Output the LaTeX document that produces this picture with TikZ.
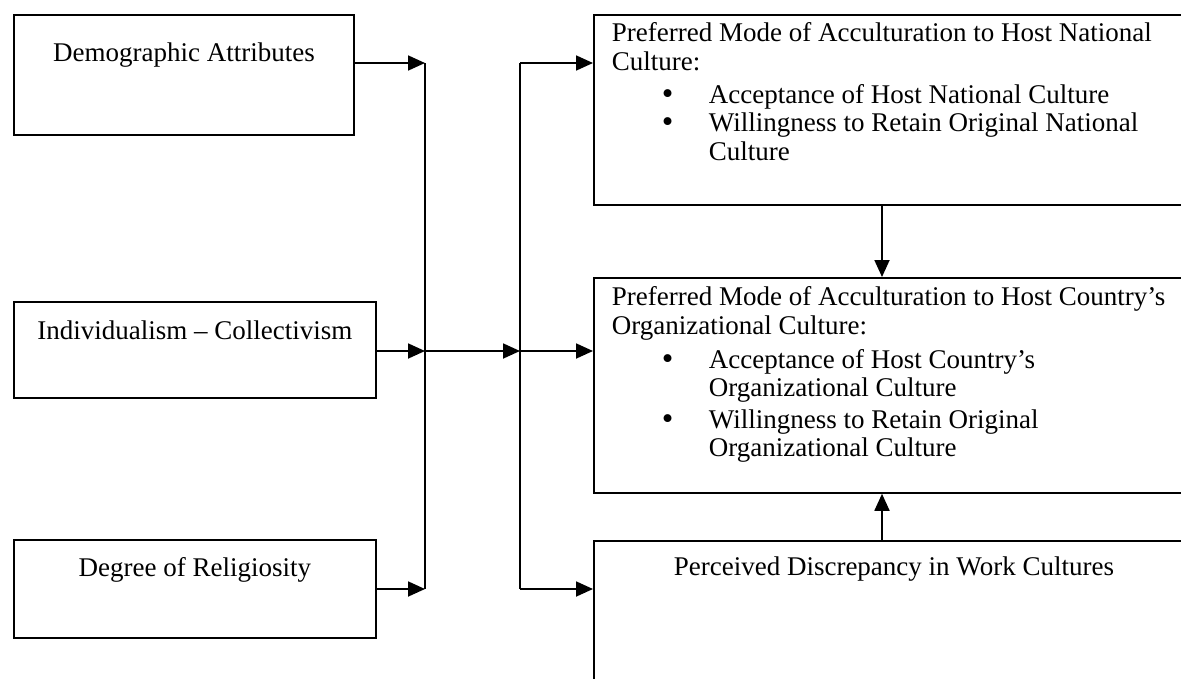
\documentclass[tikz,border=0pt]{standalone}
\usepackage{fontspec}
\setmainfont{Liberation Serif}
\usetikzlibrary{arrows.meta}
\newcommand{\bitem}[1]{\hspace*{68pt}\makebox[47pt][l]{\smash{\raisebox{-1pt}{\fontsize{33}{28}\selectfont\textbullet}}}#1}
\newcommand{\bcont}[1]{\hspace*{115pt}#1}
\newcommand{\bhead}[1]{\hspace*{18pt}#1}
\begin{document}
\begin{tikzpicture}[x=1pt,y=-1pt,
  box/.style={draw, line width=1.8pt, inner sep=0pt, anchor=north west,
    font=\fontsize{27}{28.5}\selectfont},
  arr/.style={line width=1.8pt, -{Triangle[length=17pt,width=15pt]}},
  bus/.style={line width=1.8pt}]
\useasboundingbox (0,0) rectangle (1181,678);
% left boxes
\node[box, minimum width=340pt, text height=47pt, text depth=73pt] (lb1) at (13,14) {Demographic Attributes};
\node[box, minimum width=362pt, text height=38pt, text depth=58pt] (lb2) at (13,301) {Individualism -- Collectivism};
\node[box, minimum width=362pt, text height=37pt, text depth=61pt] (lb3) at (13,539) {Degree of Religiosity};
% right boxes
\node[box] (rb1) at (593,14) {\parbox[c][190pt][t]{600pt}{\raggedright
\bhead{\rule{0pt}{27pt}Preferred Mode of Acculturation to Host National}\\
\bhead{Culture:}\\[4.5pt]
\bitem{Acceptance of Host National Culture}\\
\bitem{Willingness to Retain Original National}\\
\bcont{Culture}}};
\node[box] (rb2) at (593,277) {\parbox[c][215pt][t]{600pt}{\raggedright
\bhead{\rule{0pt}{28pt}Preferred Mode of Acculturation to Host Country's}\\
\bhead{Organizational Culture:}\\[5.5pt]
\bitem{Acceptance of Host Country's}\\
\bcont{Organizational Culture}\\[3pt]
\bitem{Willingness to Retain Original}\\
\bcont{Organizational Culture}}};
\node[box, minimum width=600pt, text height=35pt, text depth=150pt] (rb3) at (593,540) {Perceived Discrepancy in Work Cultures};
% junction coordinates
\coordinate (jL1) at (425,63);
\coordinate (jL2) at (425,351);
\coordinate (jL3) at (425,589);
\coordinate (jR1) at (520,63);
\coordinate (jR2) at (520,351);
\coordinate (jR3) at (520,589);
\coordinate (ax) at (882,0);
% connectors
\draw[arr] (lb1.east |- jL1) -- (jL1);
\draw[arr] (lb2.east |- jL2) -- (jL2);
\draw[arr] (lb3.east |- jL3) -- (jL3);
\draw[bus] (jL1) -- (jL3);
\draw[arr] (jL2) -- (jR2);
\draw[bus] (jR1) -- (jR3);
\draw[arr] (jR1) -- (jR1 -| rb1.west);
\draw[arr] (jR2) -- (jR2 -| rb2.west);
\draw[arr] (jR3) -- (jR3 -| rb3.west);
\draw[arr] (rb1.south -| ax) -- (rb2.north -| ax);
\draw[arr] (rb3.north -| ax) -- (rb2.south -| ax);
\end{tikzpicture}
\end{document}
